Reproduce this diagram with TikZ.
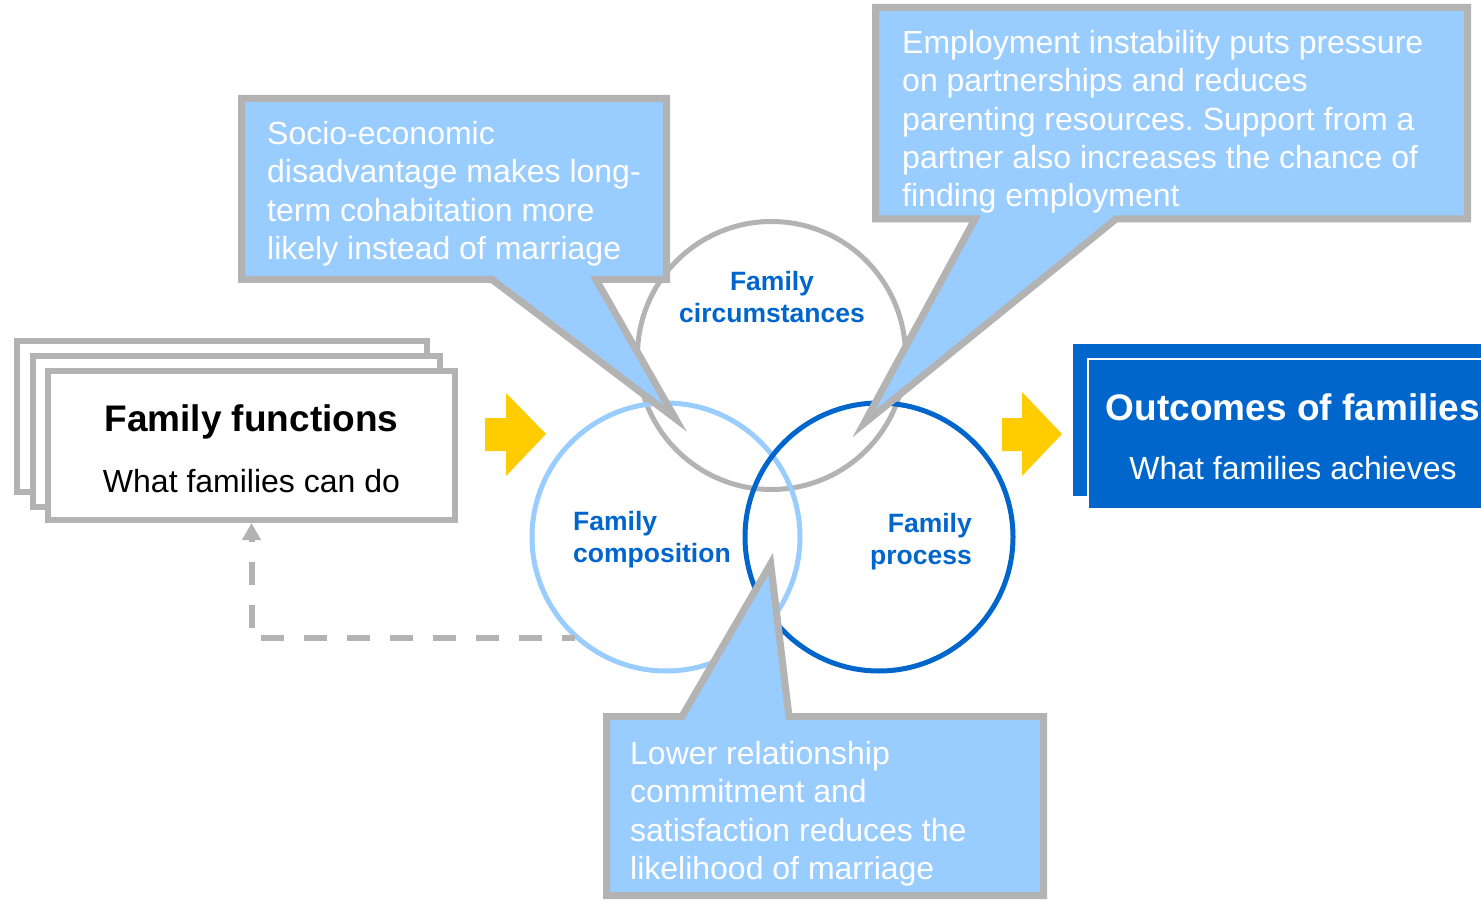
\documentclass[tikz,border=0pt]{standalone}
\usepackage{fontspec}
\setmainfont{Liberation Sans}
\usetikzlibrary{arrows.meta}
\definecolor{lgray}{HTML}{B3B3B3}
\definecolor{lblue}{HTML}{99CCFF}
\definecolor{dblue}{HTML}{0066CC}
\definecolor{ylw}{HTML}{FFCC00}
\frenchspacing
\begin{document}
\begin{tikzpicture}[x=1pt,y=-1pt,
  ffbox/.style={draw=lgray, line width=6pt, fill=white, rectangle, inner sep=0pt},
  outback/.style={fill=dblue, rectangle, inner sep=0pt},
  outfront/.style={fill=dblue, draw=white, line width=1.5pt, rectangle, inner sep=0pt},
  titletext/.style={font=\fontsize{37}{44}\selectfont\bfseries, inner sep=0pt, anchor=base},
  subtext/.style={font=\fontsize{32}{38}\selectfont, inner sep=0pt, anchor=base},
  circ/.style={circle, minimum size=268pt, line width=5pt, inner sep=0pt},
  clabel/.style={font=\fontsize{26.5}{32}\selectfont\bfseries, text=dblue, inner sep=0pt},
  callout/.style={draw=lgray, fill=lblue, line width=7pt, line join=miter},
  ctext/.style={font=\fontsize{32}{38.4}\selectfont\frenchspacing, text=white, align=left, inner sep=0pt, anchor=north west},
  yarrow/.style={fill=ylw},
  feedback/.style={draw=lgray, line width=6pt, dash pattern=on 23pt off 20pt, dash phase=10.5pt, -{Triangle[width=18pt,length=17pt]}}
]
\clip (0,0) rectangle (1481,901);
\fill[white] (0,0) rectangle (1481,901);

% Family functions stack
\node[ffbox, minimum width=410pt, minimum height=151pt] (ff3) at (222,416.5) {};
\node[ffbox, minimum width=407pt, minimum height=151pt] (ff2) at (236.5,431.5) {};
\node[ffbox, minimum width=407pt, minimum height=149pt] (ff1) at (251.5,445.5) {};
\node[titletext] (fft) at (251.5,431) {Family functions};
\node[subtext] (ffs) at (251.5,492) {What families can do};

% Outcomes
\node[outback, minimum width=428pt, minimum height=152pt] (ob) at (1287,420) {};
\node[outfront, minimum width=410pt, minimum height=150pt] (of) at (1293,434) {};
\node[titletext, text=white] (oft) at (1293,420) {Outcomes of families};
\node[subtext, text=white] (ofs) at (1293,479) {What families achieves};

% yellow arrows
\fill[yarrow] (485,418) -- (506,418) -- (506,393) -- (546,434) -- (506,476) -- (506,451) -- (485,451) -- cycle;
\fill[yarrow] (1002,418) -- (1022,418) -- (1022,392) -- (1062,434) -- (1022,476) -- (1022,451) -- (1002,451) -- cycle;

% circles
\node[circ, draw=lgray] (cir) at (771.5,355.5) {};
\node[circ, draw=lblue] (cmp) at (666,537) {};
\node[circ, draw=dblue] (prc) at (879,537) {};
\node[clabel, align=center] (lcir) at (772,297) {Family\\circumstances};
\node[clabel, align=left, anchor=west] (lcmp) at (573,540) {Family\\composition};
\node[clabel, align=right, anchor=east] (lprc) at (972,542) {Family\\process};

% feedback
\draw[feedback] (cmp.228) -| (ff1.south);

% callouts
\draw[callout] (241.5,98.5) -- (666.5,98.5) -- (666.5,279.5) -- (596,279.5) -- (675.5,418.7) -- (492,279.5) -- (241.5,279.5) -- cycle;
\node[ctext] (t1) at (267,121) {Socio-economic\\disadvantage makes long-\\term cohabitation more\\likely instead of marriage};

\draw[callout] (875.5,7.5) -- (1467.5,7.5) -- (1467.5,219) -- (1116,219) -- (864,423.5) -- (975,219) -- (875.5,219) -- cycle;
\node[ctext] (t2) at (902,30) {Employment instability puts pressure\\on partnerships and reduces\\parenting resources. Support from a\\partner also increases the chance of\\finding employment};

\draw[callout] (606.5,716.5) -- (682,716.5) -- (770.7,563.8) -- (789,716.5) -- (1043.5,716.5) -- (1043.5,895.5) -- (606.5,895.5) -- cycle;
\node[ctext] (t3) at (630,741) {Lower relationship\\commitment and\\satisfaction reduces the\\likelihood of marriage};
\end{tikzpicture}
\end{document}
